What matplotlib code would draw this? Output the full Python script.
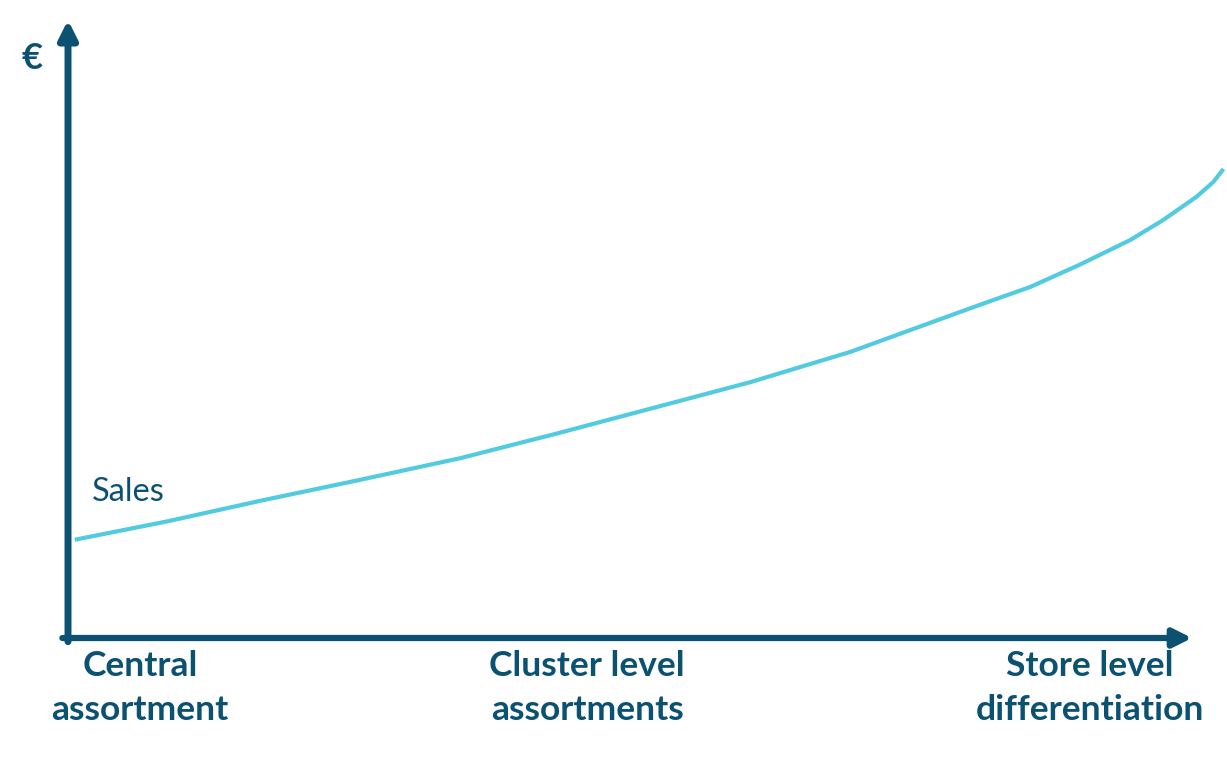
import matplotlib
matplotlib.use("Agg")
import matplotlib.pyplot as plt

# Sales curve (x: differentiation level 0..10, y: sales 0..10)
SALES_X = [0.06, 0.89, 1.71, 2.60, 3.49, 4.33, 5.18, 6.07, 6.96, 7.67,
           8.11, 8.56, 9.00, 9.45, 9.74, 10.04, 10.19, 10.28]
SALES_Y = [1.59, 1.89, 2.22, 2.56, 2.91, 3.30, 3.71, 4.14, 4.63, 5.10,
           5.39, 5.68, 6.04, 6.44, 6.76, 7.14, 7.38, 7.59]
CATEGORIES = ["Central\nassortment", "Cluster level\nassortments", "Store level\ndifferentiation"]
CAT_POS = [0.64, 4.62, 9.09]

DARK = "#0b5172"
CYAN = "#52cbe0"

plt.rcParams["font.family"] = ["Lato", "DejaVu Sans"]

fig = plt.figure(figsize=(12.27, 7.6), dpi=100)
ax = fig.add_axes([0, 0, 1, 1])
ax.set_xlim(-0.605, 10.311)
ax.set_ylim(-1.974, 10.324)
ax.axis("off")

# axes drawn as arrows
ax.annotate("", xy=(0, 10.0), xytext=(0, -0.06),
            arrowprops=dict(arrowstyle="-|>,head_length=1.1,head_width=0.55",
                            color=DARK, lw=5, shrinkA=0, shrinkB=0))
ax.annotate("", xy=(10.0, 0), xytext=(-0.05, 0),
            arrowprops=dict(arrowstyle="-|>,head_length=1.1,head_width=0.55",
                            color=DARK, lw=4.5, shrinkA=0, shrinkB=0))

ax.plot(SALES_X, SALES_Y, color=CYAN, lw=3, solid_capstyle="butt", solid_joinstyle="round")

ax.text(-0.32, 9.38, "€", color=DARK, fontsize=26, fontweight="bold", ha="center", va="center")
ax.text(0.21, 2.37, "Sales", color=DARK, fontsize=23.5, ha="left", va="center")

for lab, xp in zip(CATEGORIES, CAT_POS):
    ax.text(xp, -0.20, lab, color=DARK, fontsize=25.5, fontweight="bold",
            ha="center", va="top", linespacing=1.45)

fig.savefig("out.png", dpi=100)
